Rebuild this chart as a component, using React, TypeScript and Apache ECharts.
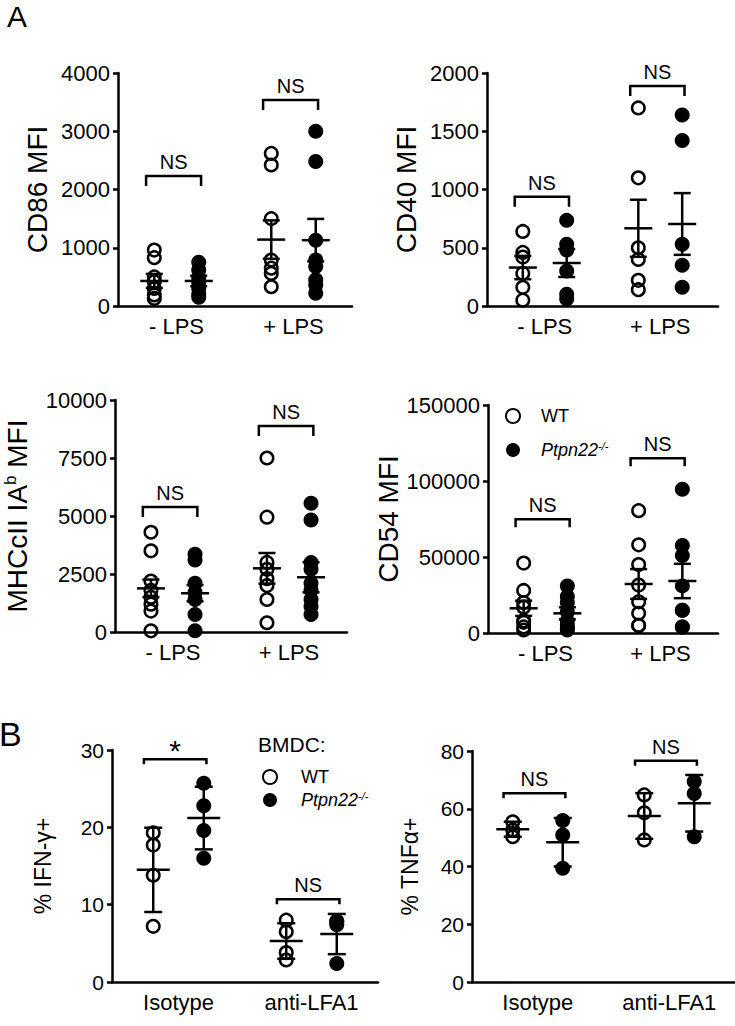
import React, { useEffect, useRef } from 'react';
import * as echarts from 'echarts';

const FONT = "'Liberation Sans', Arial, Helvetica, sans-serif";

// ---------- categories ----------
const lpsCategories = ['- LPS', '+ LPS'];
const treatCategories = ['Isotype', 'anti-LFA1'];

// ---------- A: CD86 MFI ----------
const cd86WT_noLPS = [960, 830, 500, 420, 300, 190, 130];
const cd86KO_noLPS = [750, 620, 480, 400, 300, 200, 150];
const cd86WT_LPS = [2620, 2420, 1500, 790, 650, 560, 330];
const cd86KO_LPS = [3000, 2480, 1130, 790, 680, 450, 360, 220];
const cd86MeanWT = [430, 1140];
const cd86SemWT = [120, 330];
const cd86MeanKO = [430, 1130];
const cd86SemKO = [90, 365];
const cd86Brackets = [2230, 3536];
const cd86Signif = ['NS', 'NS'];

// ---------- A: CD40 MFI ----------
const cd40WT_noLPS = [640, 460, 420, 280, 160, 50];
const cd40KO_noLPS = [735, 530, 480, 300, 100, 60];
const cd40WT_LPS = [1700, 1100, 500, 400, 220, 140];
const cd40KO_LPS = [1640, 1420, 530, 350, 160];
const cd40MeanWT = [330, 667];
const cd40SemWT = [100, 245];
const cd40MeanKO = [369, 704];
const cd40SemKO = [120, 265];
const cd40Brackets = [938, 1888];
const cd40Signif = ['NS', 'NS'];

// ---------- A: MHCcII IAb MFI ----------
const mhcWT_noLPS = [4300, 3500, 2200, 1800, 1500, 1200, 900, 50];
const mhcKO_noLPS = [3350, 3100, 2100, 1700, 1400, 750, 50];
const mhcWT_LPS = [7500, 4950, 3000, 2700, 2300, 2000, 1400, 400];
const mhcKO_LPS = [5550, 4830, 3000, 2700, 2100, 1800, 1400, 1100, 750];
const mhcMeanWT = [1880, 2745];
const mhcSemWT = [380, 660];
const mhcMeanKO = [1670, 2360];
const mhcSemKO = [350, 650];
const mhcBrackets = [5388, 8879];
const mhcSignif = ['NS', 'NS'];

// ---------- A: CD54 MFI ----------
const cd54WT_noLPS = [46000, 28000, 20000, 17000, 8000, 7000, 4000, 2000];
const cd54KO_noLPS = [31000, 24000, 20000, 14000, 8000, 5000, 3000, 2000];
const cd54WT_LPS = [80500, 58000, 45000, 31500, 20500, 13000, 5000, 5000];
const cd54KO_LPS = [94500, 57500, 51000, 31000, 15000, 15000, 4000, 4000];
const cd54MeanWT = [16250, 32240];
const cd54SemWT = [5000, 9800];
const cd54MeanKO = [12940, 34210];
const cd54SemKO = [4000, 11300];
const cd54Brackets = [74800, 114900];
const cd54Signif = ['NS', 'NS'];

// ---------- B: % IFN-γ+ ----------
const ifnWT_iso = [17.7, 19.3, 13.8, 7.2];
const ifnKO_iso = [25.7, 22.8, 19.6, 16.0];
const ifnWT_lfa = [8.0, 6.5, 3.8, 2.85];
const ifnKO_lfa = [7.9, 7.8, 7.4, 2.4];
const ifnMeanWT = [14.5, 5.3];
const ifnSdWT = [5.45, 2.3];
const ifnMeanKO = [21.2, 6.2];
const ifnSdKO = [4.05, 2.6];
const ifnBrackets = [28.8, 10.7];
const ifnSignif = ['*', 'NS'];

// ---------- B: % TNFα+ ----------
const tnfWT_iso = [55.5, 52.6, 50.3];
const tnfKO_iso = [55.9, 50.9, 39.4];
const tnfWT_lfa = [64.8, 58.6, 49.2];
const tnfKO_lfa = [69.4, 65.3, 50.3];
const tnfMeanWT = [52.9, 57.5];
const tnfSdWT = [2.6, 7.9];
const tnfMeanKO = [48.4, 61.9];
const tnfSdKO = [8.4, 9.8];
const tnfBrackets = [65.4, 76.6];
const tnfSignif = ['NS', 'NS'];

// ---------- panel definitions ----------
const panels = [
  {
    name: 'CD86 MFI', cats: lpsCategories, yMax: 4000, yInt: 1000,
    wt: [cd86WT_noLPS, cd86WT_LPS], ko: [cd86KO_noLPS, cd86KO_LPS],
    meanWT: cd86MeanWT, errWT: cd86SemWT, meanKO: cd86MeanKO, errKO: cd86SemKO,
    brackets: cd86Brackets, signif: cd86Signif,
  },
  {
    name: 'CD40 MFI', cats: lpsCategories, yMax: 2000, yInt: 500,
    wt: [cd40WT_noLPS, cd40WT_LPS], ko: [cd40KO_noLPS, cd40KO_LPS],
    meanWT: cd40MeanWT, errWT: cd40SemWT, meanKO: cd40MeanKO, errKO: cd40SemKO,
    brackets: cd40Brackets, signif: cd40Signif,
  },
  {
    name: '{t|MHCcII IA}{s|b}{t| MFI}', cats: lpsCategories, yMax: 10000, yInt: 2500,
    wt: [mhcWT_noLPS, mhcWT_LPS], ko: [mhcKO_noLPS, mhcKO_LPS],
    meanWT: mhcMeanWT, errWT: mhcSemWT, meanKO: mhcMeanKO, errKO: mhcSemKO,
    brackets: mhcBrackets, signif: mhcSignif,
  },
  {
    name: 'CD54 MFI', cats: lpsCategories, yMax: 150000, yInt: 50000,
    wt: [cd54WT_noLPS, cd54WT_LPS], ko: [cd54KO_noLPS, cd54KO_LPS],
    meanWT: cd54MeanWT, errWT: cd54SemWT, meanKO: cd54MeanKO, errKO: cd54SemKO,
    brackets: cd54Brackets, signif: cd54Signif,
  },
  {
    name: '% IFN-γ+', cats: treatCategories, yMax: 30, yInt: 10,
    wt: [ifnWT_iso, ifnWT_lfa], ko: [ifnKO_iso, ifnKO_lfa],
    meanWT: ifnMeanWT, errWT: ifnSdWT, meanKO: ifnMeanKO, errKO: ifnSdKO,
    brackets: ifnBrackets, signif: ifnSignif,
  },
  {
    name: '% TNFα+', cats: treatCategories, yMax: 80, yInt: 20,
    wt: [tnfWT_iso, tnfWT_lfa], ko: [tnfKO_iso, tnfKO_lfa],
    meanWT: tnfMeanWT, errWT: tnfSdWT, meanKO: tnfMeanKO, errKO: tnfSdKO,
    brackets: tnfBrackets, signif: tnfSignif,
  },
];

// ---------- layout (pixels) ----------
const layout = [
  { left: 118, top: 73, width: 234, height: 233, nameGap: 67, nameSize: 28, tickSize: 22, catSize: 22, leg: 10, meanHalf: 14, capHalf: 8.5, sig: 20 },
  { left: 487, top: 73, width: 231, height: 233, nameGap: 67, nameSize: 28, tickSize: 22, catSize: 22, leg: 10, meanHalf: 14, capHalf: 8.5, sig: 20 },
  { left: 115, top: 400, width: 232, height: 232, nameGap: 83, nameSize: 28, tickSize: 22, catSize: 22, leg: 10, meanHalf: 14, capHalf: 8.5, sig: 20 },
  { left: 488, top: 405, width: 230, height: 228, nameGap: 73, nameSize: 28, tickSize: 22, catSize: 22, leg: 8, meanHalf: 14, capHalf: 8.5, sig: 20 },
  { left: 112, top: 750, width: 266, height: 232, nameGap: 58, nameSize: 23, tickSize: 21, catSize: 22, leg: 5, meanHalf: 16.5, capHalf: 9, sig: 20 },
  { left: 472, top: 751, width: 263, height: 231, nameGap: 51, nameSize: 23, tickSize: 21, catSize: 22, leg: 5, meanHalf: 16.5, capHalf: 9, sig: 20 },
];
const GROUP_OFFSET = 0.19;
const BRACKET_LEFT = -0.26;
const BRACKET_RIGHT = 0.21;
const LW = 2.5;

function buildOption() {
  const grid: any[] = [];
  const xAxis: any[] = [];
  const yAxis: any[] = [];
  const series: any[] = [];

  panels.forEach((p, i) => {
    const L = layout[i];
    grid.push({ left: L.left, top: L.top, width: L.width, height: L.height, containLabel: false });
    xAxis.push({
      type: 'category', gridIndex: i, data: p.cats,
      axisLine: { onZero: false, lineStyle: { color: '#000', width: LW } },
      axisTick: { alignWithLabel: true, length: 6, lineStyle: { color: '#000', width: LW } },
      axisLabel: { color: '#000', fontSize: L.catSize, fontFamily: FONT, margin: 9 },
      splitLine: { show: false },
    });
    xAxis.push({ type: 'value', gridIndex: i, min: -0.5, max: 1.5, show: false });
    yAxis.push({
      type: 'value', gridIndex: i, min: 0, max: p.yMax, interval: p.yInt,
      name: p.name, nameLocation: 'middle', nameGap: L.nameGap, nameRotate: 90,
      nameTextStyle: {
        color: '#000', fontSize: L.nameSize, fontFamily: FONT,
        rich: {
          t: { fontSize: L.nameSize, fontFamily: FONT, color: '#000', lineHeight: 30 },
          s: { fontSize: 17, fontFamily: FONT, color: '#000', verticalAlign: 'top', lineHeight: 14 },
        },
      },
      axisLine: { show: true, onZero: false, lineStyle: { color: '#000', width: LW } },
      axisTick: { show: true, length: 5, lineStyle: { color: '#000', width: LW } },
      axisLabel: {
        color: '#000', fontSize: L.tickSize, fontFamily: FONT, margin: 8,
        formatter: (v: number) => String(v),
      },
      splitLine: { show: false },
    });

    const wtPts: number[][] = [];
    const koPts: number[][] = [];
    p.wt.forEach((arr, c) => arr.forEach((v) => wtPts.push([c - GROUP_OFFSET, v])));
    p.ko.forEach((arr, c) => arr.forEach((v) => koPts.push([c + GROUP_OFFSET, v])));

    series.push({
      type: 'scatter', name: 'WT', xAxisIndex: 2 * i + 1, yAxisIndex: i, data: wtPts,
      symbol: 'circle', symbolSize: 12.5,
      itemStyle: { color: 'rgba(255,255,255,0)', borderColor: '#000', borderWidth: LW, opacity: 1 },
      z: 2,
    });
    series.push({
      type: 'scatter', name: 'Ptpn22', xAxisIndex: 2 * i + 1, yAxisIndex: i, data: koPts,
      symbol: 'circle', symbolSize: 15,
      itemStyle: { color: '#000', opacity: 1 },
      z: 2,
    });

    const errData: number[][] = [];
    p.meanWT.forEach((m, c) => errData.push([c - GROUP_OFFSET, m, m - p.errWT[c], m + p.errWT[c]]));
    p.meanKO.forEach((m, c) => errData.push([c + GROUP_OFFSET, m, m - p.errKO[c], m + p.errKO[c]]));
    series.push({
      type: 'custom', name: 'mean', xAxisIndex: 2 * i + 1, yAxisIndex: i, data: errData,
      encode: { x: 0, y: [1, 2, 3] }, z: 5, silent: true,
      renderItem: (params: any, api: any) => {
        const x = api.value(0);
        const pm = api.coord([x, api.value(1)]);
        const pl = api.coord([x, api.value(2)]);
        const ph = api.coord([x, api.value(3)]);
        const st = { stroke: '#000', lineWidth: LW };
        return {
          type: 'group',
          children: [
            { type: 'line', shape: { x1: pm[0] - L.meanHalf, y1: pm[1], x2: pm[0] + L.meanHalf, y2: pm[1] }, style: st },
            { type: 'line', shape: { x1: pl[0], y1: pl[1], x2: ph[0], y2: ph[1] }, style: st },
            { type: 'line', shape: { x1: pl[0] - L.capHalf, y1: pl[1], x2: pl[0] + L.capHalf, y2: pl[1] }, style: st },
            { type: 'line', shape: { x1: ph[0] - L.capHalf, y1: ph[1], x2: ph[0] + L.capHalf, y2: ph[1] }, style: st },
          ],
        };
      },
    });

    const brData = p.brackets.map((y, c) => [c + BRACKET_LEFT, c + BRACKET_RIGHT, y]);
    series.push({
      type: 'custom', name: 'signif', xAxisIndex: 2 * i + 1, yAxisIndex: i, data: brData,
      encode: { x: [0, 1], y: 2 }, z: 5, silent: true,
      renderItem: (params: any, api: any) => {
        const a = api.coord([api.value(0), api.value(2)]);
        const b = api.coord([api.value(1), api.value(2)]);
        const label = p.signif[params.dataIndex];
        const isStar = label === '*';
        return {
          type: 'group',
          children: [
            {
              type: 'polyline',
              shape: { points: [[a[0], a[1] + L.leg], [a[0], a[1]], [b[0], b[1]], [b[0], b[1] + L.leg]] },
              style: { stroke: '#000', lineWidth: LW, fill: 'none' },
            },
            {
              type: 'text', x: (a[0] + b[0]) / 2, y: a[1] - (isStar ? -6 : 4),
              style: {
                text: label, fill: '#000', fontFamily: FONT, fontSize: isStar ? 30 : L.sig,
                align: 'center', verticalAlign: 'bottom',
              },
            },
          ],
        };
      },
    });
  });

  const legendRich = {
    i: { fontSize: 18, fontFamily: FONT, fontStyle: 'italic', color: '#000', lineHeight: 20 },
    s: { fontSize: 11, fontFamily: FONT, fontStyle: 'italic', color: '#000', verticalAlign: 'top', lineHeight: 10 },
    n: { fontSize: 18, fontFamily: FONT, color: '#000', lineHeight: 20 },
  };
  const fmt = (name: string) => (name === 'WT' ? '{n|WT}' : '{i|Ptpn22}{s|-/-}');

  return {
    animation: false,
    backgroundColor: '#fff',
    grid, xAxis, yAxis, series,
    legend: [
      {
        data: ['WT', 'Ptpn22'], orient: 'vertical', left: 500, top: 402,
        itemWidth: 46, itemHeight: 14, itemGap: 15, selectedMode: false,
        formatter: fmt, textStyle: { rich: legendRich },
      },
      {
        data: ['WT', 'Ptpn22'], orient: 'vertical', left: 257, top: 763,
        itemWidth: 52, itemHeight: 14, itemGap: 4, selectedMode: false,
        formatter: fmt, textStyle: { rich: legendRich },
      },
    ],
    graphic: [
      { type: 'text', left: 7, top: 1, style: { text: 'A', fontSize: 30, fontFamily: FONT, fill: '#000' } },
      { type: 'text', left: -1, top: 717, style: { text: 'B', fontSize: 34, fontFamily: FONT, fill: '#000' } },
      { type: 'text', left: 258, top: 734, style: { text: 'BMDC:', fontSize: 21, fontFamily: FONT, fill: '#000' } },
    ],
  };
}

export default function App() {
  const ref = useRef<HTMLDivElement>(null);
  useEffect(() => {
    if (!ref.current) return;
    const chart = echarts.init(ref.current, null, { renderer: 'svg' });
    chart.setOption(buildOption() as any);
    return () => chart.dispose();
  }, []);
  return (
    <div
      ref={ref}
      style={{ position: 'absolute', left: 0, top: 0, width: 735, height: 1026, background: '#fff' }}
    />
  );
}
